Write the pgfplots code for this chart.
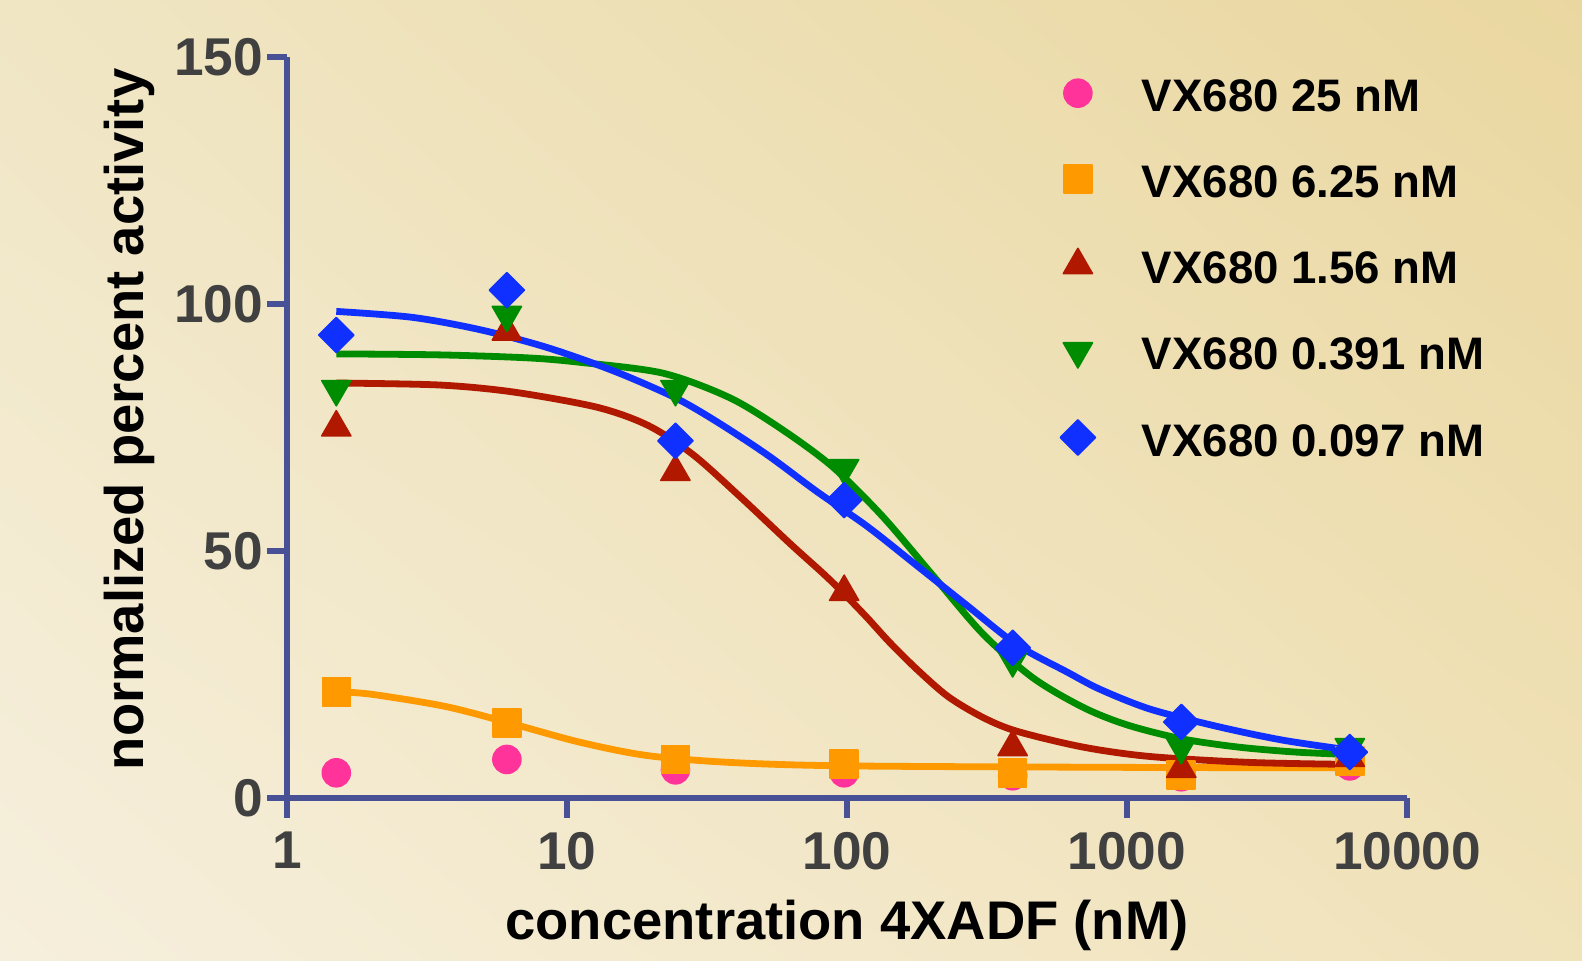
\documentclass[border=0pt]{standalone}
\usepackage{pgfplots}
\pgfplotsset{compat=1.18}
\usetikzlibrary{shadings}
\usepackage{fontspec}
\setmainfont{Liberation Sans}
\definecolor{axisblue}{RGB}{72,80,150}
\definecolor{cpink}{RGB}{255,51,153}
\definecolor{corange}{RGB}{255,153,0}
\definecolor{cred}{RGB}{176,24,0}
\definecolor{cgreen}{RGB}{0,140,0}
\definecolor{cblue}{RGB}{16,48,255}
\definecolor{ticklab}{RGB}{64,64,64}
\definecolor{bgLL}{RGB}{246,239,221}
\definecolor{bgUR}{RGB}{234,215,160}
\definecolor{bgUL}{RGB}{240,230,196}
\definecolor{bgLR}{RGB}{240,226,185}
\begin{document}
\begin{tikzpicture}
\useasboundingbox (0,0) rectangle (395.5pt,240.25pt);
\shade[lower left=bgLL, upper right=bgUR, upper left=bgUL, lower right=bgLR] (0,0) rectangle (395.5pt,240.25pt);
\begin{axis}[
  at={(71.75pt,40.75pt)}, anchor=south west,
  scale only axis, width=280pt, height=185.25pt,
  xmode=log, xmin=1, xmax=10000, ymin=0, ymax=150,
  clip=false,
  axis x line*=bottom, axis y line*=left,
  axis line style={axisblue, line width=1.6pt},
  xminorticks=false,
  tick align=outside, major tick length=5pt,
  tick style={axisblue, line width=1.6pt},
  xtick={1,10,100,1000,10000}, xticklabels={1,10,100,1000,10000},
  ytick={0,50,100,150}, yticklabels={0,50,100,150},
  ticklabel style={font=\fontsize{13.3}{16}\selectfont\bfseries, text=ticklab},
  yticklabel style={xshift=2.5pt},
  xlabel={concentration 4XADF (nM)},
  xlabel style={at={(axis description cs:0.5,-0.1916)}, anchor=base, font=\fontsize{13.6}{16}\selectfont\bfseries},
  ylabel={normalized percent activity},
  ylabel style={at={(axis description cs:-0.1277,0.511)}, anchor=base, font=\fontsize{13.6}{16}\selectfont\bfseries},
  legend cell align=left,
  legend style={draw=none, fill=none, at={(axis description cs:0.6905,0.9744)}, anchor=north west,
    inner sep=0pt, outer sep=0pt, row sep=10.5pt,
    font=\fontsize{11.4}{14}\selectfont\bfseries,
    nodes={inner sep=0pt, text height=9pt, text depth=2pt},
    /tikz/every even column/.append style={column sep=0pt}},
  legend image code/.code={\path[draw=none,fill=none] (0pt,-5.5pt) rectangle (16pt,5.5pt); \draw[#1] plot coordinates {(0pt,1.2pt)};},
  every axis plot post/.append style={line join=round},
]
% VX680 25 nM
\addplot[cpink, only marks, mark=*, mark size=3.5pt] coordinates {
(1.5,5.1) (6.1,7.8) (24.4,5.7) (97.7,5.1) (390.6,4.5) (1562.5,4.3) (6250,6.5)};
\addlegendentry{VX680 25 nM}
% VX680 6.25 nM
\addplot[corange, line width=1.7pt, smooth, forget plot] coordinates {
(1.5,21.5) (2,21.0) (3.7,18.5) (6.4,15.0) (11.1,11.3) (19.3,8.6) (38.2,7.2) (100,6.5) (1000,6.2) (6250,6.1)};
\addplot[corange, only marks, mark=square*, mark size=3.5pt] coordinates {
(1.5,21.5) (6.1,15.2) (24.4,7.8) (97.7,6.9) (390.6,5.1) (1562.5,4.7) (6250,7.5)};
\addlegendentry{VX680 6.25 nM}
% VX680 1.56 nM
\addplot[cred, line width=1.7pt, smooth, forget plot] coordinates {
(1.5,84.0) (3.5,83.6) (6.4,82.2) (12.8,79.1) (19.5,75.4) (28.2,69.5) (41.5,61) (62.6,51.5) (82,45.5) (97,41.5) (118,36.5) (142,31.5) (178,26) (230,20.5) (306,16.3) (405,13.5) (697,10.3) (1208,8.4) (2750,7.2) (6250,6.8)};
\addplot[cred, only marks, mark=triangle*, mark size=4.2pt] coordinates {
(1.5,75.0) (6.1,94.4) (24.4,66.0) (97.7,41.7) (390.6,10.3) (1562.5,5.9) (6250,8.1)};
\addlegendentry{VX680 1.56 nM}
% VX680 0.391 nM
\addplot[cgreen, line width=1.7pt, smooth, forget plot] coordinates {
(1.5,89.9) (3.5,89.7) (7.2,89.1) (11.1,88.2) (22,86) (38.2,81) (59,74.5) (89,67) (134,57) (203,45) (306,33.2) (462,24.3) (700,18.3) (1000,14.8) (1562,12) (2500,10.3) (4000,9.3) (6250,8.8)};
\addplot[cgreen, only marks, mark=triangle*, mark size=4.2pt, mark options={rotate=180}] coordinates {
(1.5,82.8) (6.1,97.8) (24.4,82.8) (97.7,66.8) (390.6,27.9) (1562.5,10.3) (6250,10.3)};
\addlegendentry{VX680 0.391 nM}
% VX680 0.097 nM
\addplot[cblue, line width=1.7pt, smooth, forget plot] coordinates {
(1.5,98.5) (2.8,97.3) (4.89,94.8) (8.48,91.2) (14.6,86.5) (24,81.2) (34,76.3) (51.8,69.5) (78.2,62) (118,55) (178,47) (268,39) (405,31) (611,25.5) (801,22) (1208,18) (2095,14.5) (3606,11.7) (6250,9.7)};
\addplot[cblue, only marks, mark=square*, mark size=3.1pt, mark options={rotate=45}] coordinates {
(1.5,93.7) (6.1,102.8) (24.4,72.3) (97.7,60.3) (390.6,30.4) (1562.5,15.4) (6250,9.3)};
\addlegendentry{VX680 0.097 nM}
\end{axis}
\end{tikzpicture}
\end{document}
